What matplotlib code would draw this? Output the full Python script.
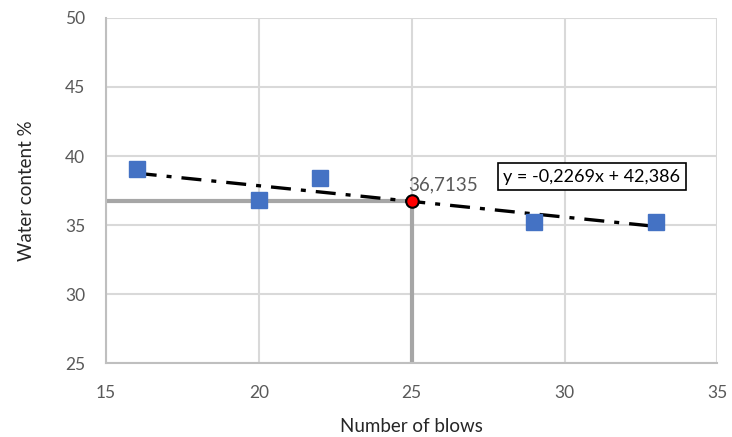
import numpy as np
import matplotlib
matplotlib.use('Agg')
from matplotlib import pyplot as plt

# Data
blows = [16, 20, 22, 29, 33]
water = [39.05, 36.8, 38.38, 35.2, 35.25]
slope = -0.2269
intercept = 42.386
n_target = 25
w_target = slope * n_target + intercept  # 36,7135

plt.rcParams['font.family'] = ['Lato', 'DejaVu Sans']

fig = plt.figure(figsize=(7.32, 4.37), dpi=100)
ax = fig.add_axes([0.145, 0.169, 0.835, 0.79])

ax.set_xlim(15, 35)
ax.set_ylim(25, 50)
ax.set_xticks([15, 20, 25, 30, 35])
ax.set_yticks([25, 30, 35, 40, 45, 50])
ax.grid(True, color='#d9d9d9', linewidth=1.5)
ax.set_axisbelow(True)
for side in ['top', 'right']:
    ax.spines[side].set_visible(False)
for side in ['left', 'bottom']:
    ax.spines[side].set_color('#bfbfbf')
    ax.spines[side].set_linewidth(1.5)
ax.tick_params(length=0, labelsize=12.5, colors='#595959')
ax.tick_params(axis='y', pad=15)
ax.tick_params(axis='x', pad=16)

# guide lines to the point at 25 blows
ax.plot([15, n_target], [w_target, w_target], color='#a6a6a6', linewidth=3, zorder=2)
ax.plot([n_target, n_target], [25, w_target], color='#a6a6a6', linewidth=3, zorder=2)

# trendline
xt = np.array([min(blows), max(blows)])
ax.plot(xt, slope * xt + intercept, color='black', linewidth=2.4,
        dashes=(6, 3, 1.5, 3), zorder=3)

ax.plot(blows, water, linestyle='none', marker='s', markersize=12,
        color='#4472C4', zorder=4)
ax.plot([n_target], [w_target], linestyle='none', marker='o', markersize=9,
        markerfacecolor='red', markeredgecolor='black', markeredgewidth=1.5, zorder=5)

ax.text(n_target - 0.1, w_target + 0.55, '36,7135', fontsize=13.5, color='#595959',
        ha='left', va='bottom')
ax.text(28.0, 38.5, 'y = -0,2269x + 42,386', fontsize=13, color='black',
        ha='left', va='center',
        bbox=dict(boxstyle='square,pad=0.3', facecolor='white', edgecolor='black', linewidth=1.2))

ax.set_xlabel('Number of blows', fontsize=13.5, color='#262626', labelpad=12)
ax.set_ylabel('Water content %', fontsize=13.5, color='#262626', labelpad=22)

fig.savefig('out.png', dpi=100)
